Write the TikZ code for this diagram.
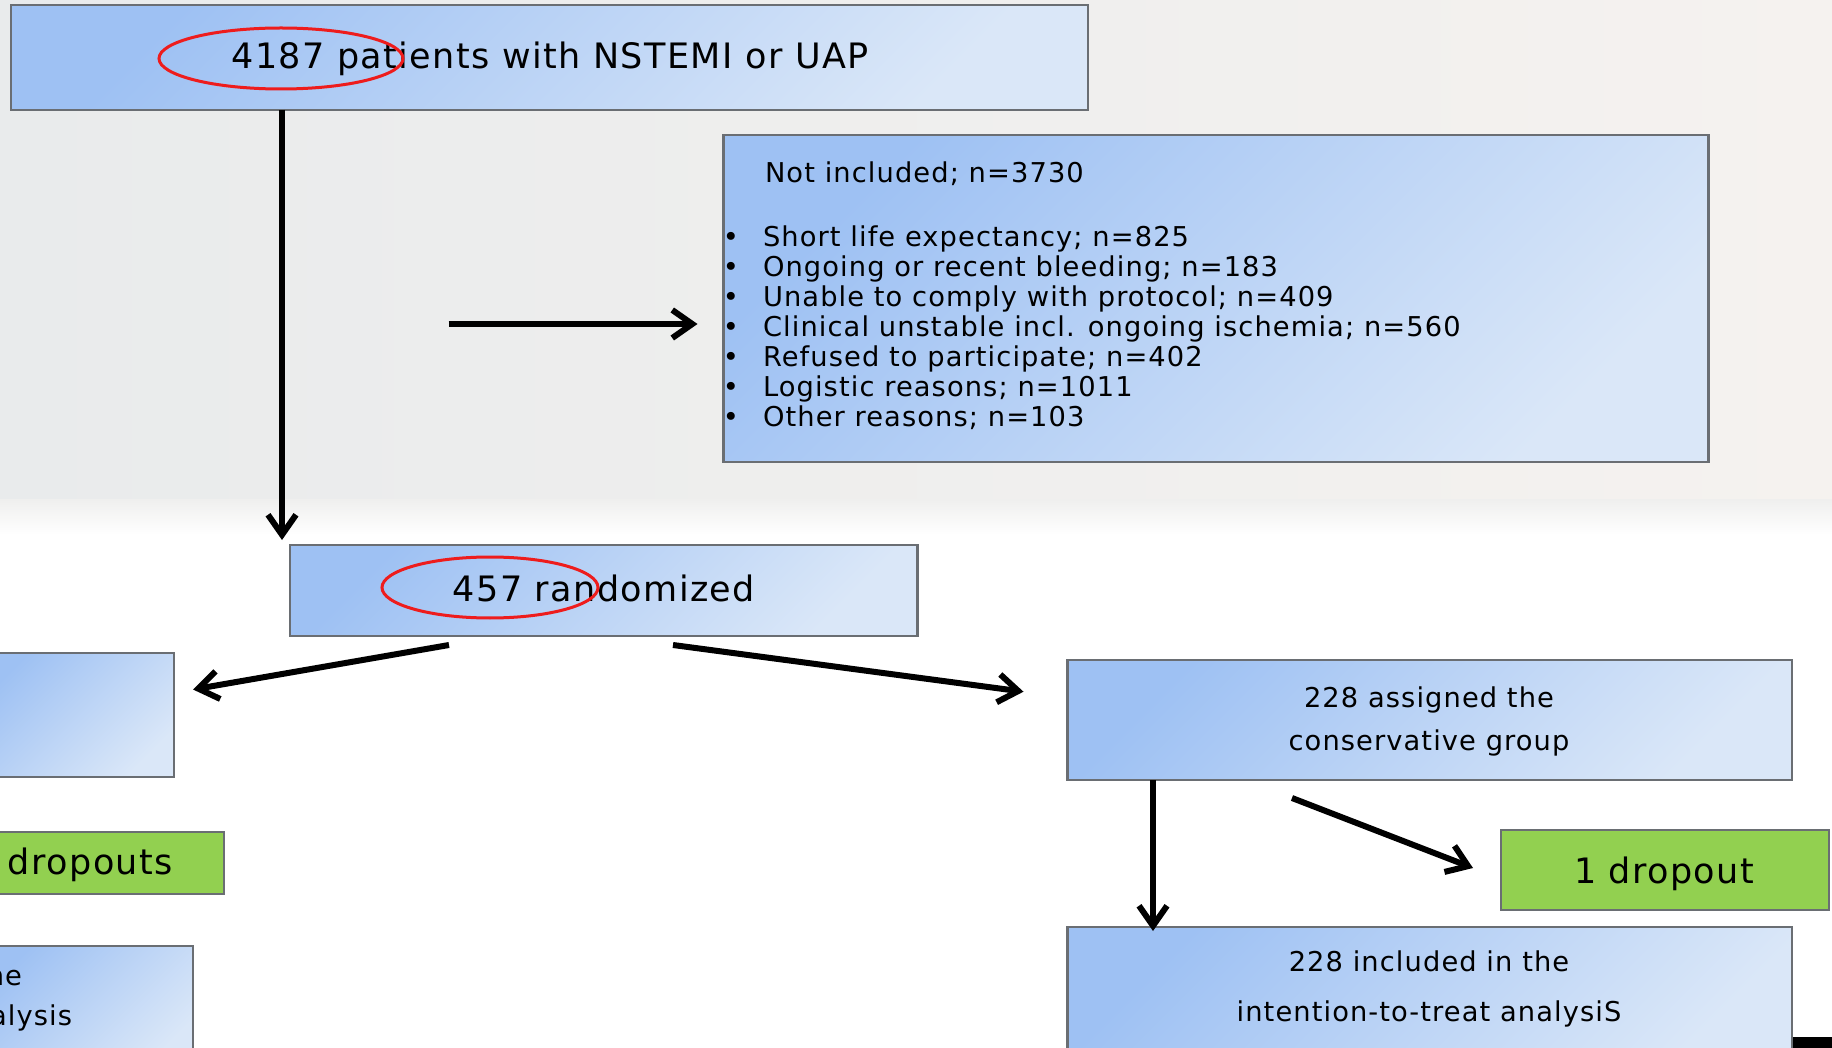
\documentclass[tikz,border=0pt]{standalone}
\usepackage{fontspec}
\setmainfont{DejaVu Sans}[LetterSpace=4]
\usetikzlibrary{arrows.meta,shapes.geometric}
\definecolor{blueA}{HTML}{9EC1F3}
\definecolor{blueB}{HTML}{DAE7F8}
\definecolor{boxline}{HTML}{6A6E73}
\definecolor{dropgreen}{HTML}{92D050}
\definecolor{ringred}{HTML}{EE1C1C}
\definecolor{bgL}{HTML}{E9EBEC}
\definecolor{bgR}{HTML}{F5F2EF}
\definecolor{bgM}{HTML}{EFEFEE}
\newcommand{\szbig}{\fontsize{35pt}{42pt}\selectfont}
\newcommand{\szmid}{\fontsize{27.3pt}{33pt}\selectfont}
\begin{document}
\begin{tikzpicture}[x=1pt,y=-1pt,
  bluebox/.style={draw=boxline, line width=2.5pt, top color=blueA, bottom color=blueB, shading angle=45, inner sep=0pt, outer sep=0pt},
  greenbox/.style={draw=boxline, line width=2.5pt, fill=dropgreen, inner sep=0pt, outer sep=0pt},
  lbl/.style={inner sep=0pt, outer sep=0pt, text=black},
  redring/.style={ellipse, draw=ringred, line width=3pt, inner sep=0pt, outer sep=0pt},
  arr/.style={line width=6pt, -{Straight Barb[length=20pt,width=28pt]}}]
\useasboundingbox (0,0) rectangle (1832,1048);
% background
\fill[white] (0,0) rectangle (1832,1048);
\shade[left color=bgL, right color=bgR] (0,0) rectangle (1832,500);
\shade[top color=bgM, bottom color=white] (0,499) rectangle (1832,535);
% boxes
\node[bluebox, minimum width=1077pt, minimum height=105pt] (top) at (549.5,57.5) {};
\node[bluebox, minimum width=985pt, minimum height=327pt] (notinc) at (1216,298.5) {};
\node[bluebox, minimum width=627.5pt, minimum height=91pt] (rand) at (603.75,590.5) {};
\node[bluebox, minimum width=194pt, minimum height=124pt] (leftgrp) at (77,715) {};
\node[bluebox, minimum width=724.5pt, minimum height=120pt] (consv) at (1429.75,720) {};
\node[greenbox, minimum width=244pt, minimum height=62pt] (dropL) at (102,863) {};
\node[greenbox, minimum width=328pt, minimum height=80pt] (dropR) at (1665,870) {};
\node[bluebox, minimum width=213pt, minimum height=124pt] (leftitt) at (86.5,1008) {};
\node[bluebox, minimum width=724.5pt, minimum height=143pt] (itt) at (1429.75,998.5) {};
\fill[black] (1793,1037) rectangle (1840,1060);
% texts
\node[lbl, anchor=base] (topt) at (550,69) {\szbig 4187 patients with NSTEMI or UAP};
\node[lbl, anchor=base west] (nit) at (765,183) {\szmid Not included; n=3730};
\node[lbl, anchor=base west] (l1) at (763,247) {\szmid\llap{•\hspace{24pt}}Short life expectancy; n=825};
\node[lbl, anchor=base west] (l2) at (763,277) {\szmid\llap{•\hspace{24pt}}Ongoing or recent bleeding; n=183};
\node[lbl, anchor=base west] (l3) at (763,307) {\szmid\llap{•\hspace{24pt}}Unable to comply with protocol; n=409};
\node[lbl, anchor=base west] (l4) at (763,337) {\szmid\llap{•\hspace{24pt}}Clinical unstable incl. ongoing ischemia; n=560};
\node[lbl, anchor=base west] (l5) at (763,367) {\szmid\llap{•\hspace{24pt}}Refused to participate; n=402};
\node[lbl, anchor=base west] (l6) at (763,397) {\szmid\llap{•\hspace{24pt}}Logistic reasons; n=1011};
\node[lbl, anchor=base west] (l7) at (763,427) {\szmid\llap{•\hspace{24pt}}Other reasons; n=103};
\node[lbl, anchor=base] (randt) at (604,601) {\szbig 457 randomized};
\node[lbl, anchor=base] (consv1) at (1429,707) {\szmid 228 assigned the};
\node[lbl, anchor=base] (consv2) at (1429,750) {\szmid conservative group};
\node[lbl, anchor=base] (itt1) at (1429,971) {\szmid 228 included in the};
\node[lbl, anchor=base] (itt2) at (1429,1021) {\szmid intention-to-treat analysiS};
\node[lbl, anchor=base] (dropRt) at (1664,883) {\szbig 1 dropout};
\node[lbl, anchor=base west] (dropLt) at (8,874) {\szbig dropouts};
\node[lbl, anchor=base east] (lhe) at (22,985) {\szmid he};
\node[lbl, anchor=base east] (lalysis) at (72,1025) {\szmid alysis};
% red rings
\node[redring, minimum width=244pt, minimum height=61pt] (ring1) at (281,58.5) {};
\node[redring, minimum width=216pt, minimum height=61pt] (ring2) at (490,587.5) {};
% arrows
\coordinate (a1e) at (282,540);
\coordinate (a2s) at (448.5,324);
\coordinate (a2e) at (697.5,324);
\coordinate (a3s) at (449,645);
\coordinate (a3e) at (193,689.5);
\coordinate (a4s) at (673,645);
\coordinate (a4e) at (1023.5,691.7);
\coordinate (a5e) at (1153,931);
\coordinate (a6s) at (1292,798);
\coordinate (a6e) at (1473,868);
\draw[arr] (top.south -| a1e) -- (a1e);
\draw[arr] (a2s) -- (a2e);
\draw[arr] (a3s) -- (a3e);
\draw[arr] (a4s) -- (a4e);
\draw[arr] (consv.south -| a5e) -- (a5e);
\draw[arr] (a6s) -- (a6e);
\end{tikzpicture}
\end{document}
